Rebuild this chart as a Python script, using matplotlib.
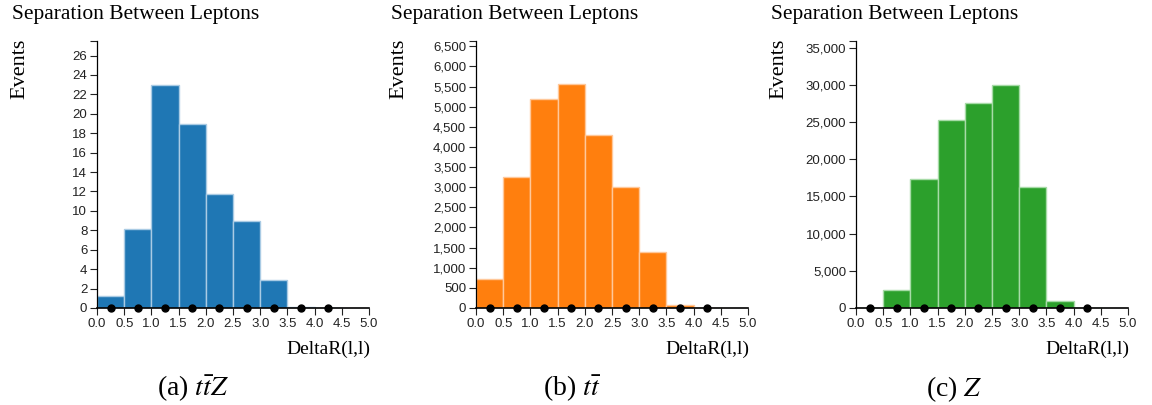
import matplotlib.pyplot as plt

# bin centres of DeltaR(l,l) histogram (bin width 0.5)
bin_centers = [0.25, 0.75, 1.25, 1.75, 2.25, 2.75, 3.25, 3.75, 4.25]
ttz_events = [1.27, 8.1, 23.0, 19.0, 11.7, 9.0, 2.85, 0.1, 0.04]
tt_events = [726, 3247, 5192, 5559, 4290, 3005, 1386, 83, 12]
z_events = [60, 2430, 17340, 25225, 27610, 30000, 16216, 946, 60]

x_ticks = [0.0, 0.5, 1.0, 1.5, 2.0, 2.5, 3.0, 3.5, 4.0, 4.5, 5.0]
ttz_yticks = list(range(0, 27, 2))
tt_yticks = list(range(0, 6501, 500))
z_yticks = list(range(0, 35001, 5000))

captions = [r"(a) $t\bar{t}Z$", r"(b) $t\bar{t}$", r"(c) $Z$"]
caption_x = [193, 572, 954]
colors = ["#1f77b4", "#ff7f0e", "#2ca02c"]
edge_colors = ["#a9cbe4", "#ffc89a", "#a7dba7"]

plt.rcParams["mathtext.fontset"] = "stix"
serif = "Liberation Serif"
sans = "Liberation Sans"

fig = plt.figure(figsize=(11.52, 4.05), dpi=100)

panels = [
    (97, ttz_events, ttz_yticks, 27.5, False),
    (476, tt_events, tt_yticks, 6630, True),
    (856, z_events, z_yticks, 35900, True),
]

for i, (left_px, values, yticks, ytop, commas) in enumerate(panels):
    ax = fig.add_axes([left_px / 1152, (405 - 308) / 405, 272 / 1152, 267 / 405])
    ax.bar(bin_centers, values, width=0.5, color=colors[i],
           edgecolor=edge_colors[i], linewidth=1.0, zorder=2)
    ax.plot(bin_centers, [0] * len(bin_centers), 'o', color='black',
            markersize=5, clip_on=False, zorder=5)
    ax.set_xlim(0, 5)
    ax.set_ylim(0, ytop)
    ax.set_xticks(x_ticks)
    ax.set_xticklabels([f"{t:.1f}" for t in x_ticks], fontfamily=sans, fontsize=9.5)
    ax.set_yticks(yticks + [ytop])
    if commas:
        labels = [f"{t:,}" for t in yticks]
    else:
        labels = [str(t) for t in yticks]
    ax.set_yticklabels(labels + [""], fontfamily=sans, fontsize=9.5)
    ax.tick_params(length=5, width=0.8, pad=2, colors='#222222')
    for side in ["top", "right"]:
        ax.spines[side].set_visible(False)
    ax.spines["left"].set_linewidth(0.9)
    ax.spines["bottom"].set_linewidth(1.2)

    fig.text((left_px - 85) / 1152, 1 - 15 / 405, "Separation Between Leptons",
             fontfamily=serif, fontsize=15.5, ha='left', va='center')
    fig.text((left_px - 77) / 1152, 1 - 69 / 405, "Events", rotation=90,
             fontfamily=serif, fontsize=16, ha='center', va='center')
    fig.text((left_px + 273) / 1152, 1 - 349 / 405, "DeltaR(l,l)",
             fontfamily=serif, fontsize=14, ha='right', va='center')

for cx, cap in zip(caption_x, captions):
    fig.text(cx / 1152, 1 - 389 / 405, cap, fontfamily=serif, fontsize=20,
             ha='center', va='center')

fig.savefig("out.png", dpi=100)
